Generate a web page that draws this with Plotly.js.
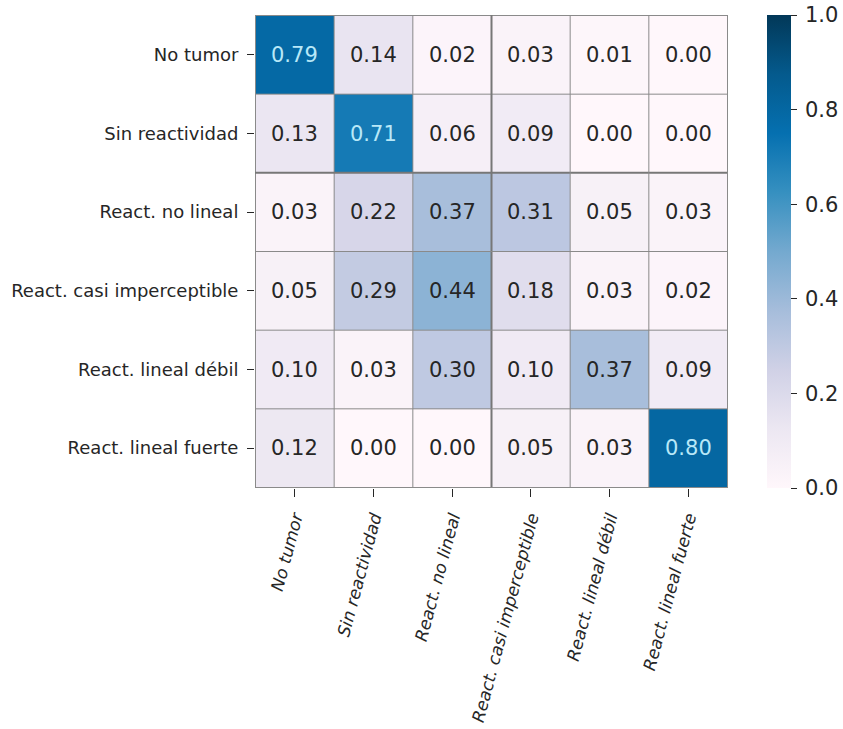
<!DOCTYPE html>
<html>
<head>
<meta charset="utf-8">
<script src="https://cdn.plot.ly/plotly-3.0.1.min.js"></script>
<style>
  html, body { margin: 0; padding: 0; background: #ffffff; }
  #chart { width: 843px; height: 729px; }
</style>
</head>
<body>
<div id="chart"></div>
<script>
// Class labels (same order on both axes)
const categories = [
  'No tumor',
  'Sin reactividad',
  'React. no lineal',
  'React. casi imperceptible',
  'React. lineal débil',
  'React. lineal fuerte'
];

// Normalised confusion matrix, one row per true class
const rowNoTumor      = [0.79, 0.14, 0.02, 0.03, 0.01, 0.00];
const rowSinReact     = [0.13, 0.71, 0.06, 0.09, 0.00, 0.00];
const rowNoLineal     = [0.03, 0.22, 0.37, 0.31, 0.05, 0.03];
const rowCasiImperc   = [0.05, 0.29, 0.44, 0.18, 0.03, 0.02];
const rowLinealDebil  = [0.10, 0.03, 0.30, 0.10, 0.37, 0.09];
const rowLinealFuerte = [0.12, 0.00, 0.00, 0.05, 0.03, 0.80];

const matrix = [rowNoTumor, rowSinReact, rowNoLineal, rowCasiImperc, rowLinealDebil, rowLinealFuerte];

// Colorbar ticks
const cbTicks = [0.0, 0.2, 0.4, 0.6, 0.8, 1.0];

// Sequential purple-blue colour map
const puBu = ['#fff7fb', '#ece7f2', '#d0d1e6', '#a6bddb', '#74a9cf', '#3690c0', '#0570b0', '#045a8d', '#023858'];
const colorscale = puBu.map((c, i) => [i / (puBu.length - 1), c]);

const FONT = 'DejaVu Sans, Arial, sans-serif';
const DARK = '#262626';
const LIGHT = '#b8e8f8';
const GRID = '#8a8a8a';

const heat = {
  type: 'heatmap',
  x: categories,
  y: categories,
  z: matrix,
  zmin: 0,
  zmax: 1,
  colorscale: colorscale,
  colorbar: {
    xref: 'container',
    x: 767 / 843, xanchor: 'left', xpad: 0,
    yref: 'paper',
    y: 0.5, yanchor: 'middle', ypad: 0,
    len: 1, lenmode: 'fraction',
    thickness: 24,
    outlinewidth: 0,
    ticks: 'outside', ticklen: 6, tickwidth: 1, tickcolor: DARK,
    tickvals: cbTicks,
    ticktext: cbTicks.map(v => '\u2009' + v.toFixed(1)),
    tickfont: { family: FONT, size: 21, color: DARK }
  }
};

// Value labels inside each cell
const annotations = [];
matrix.forEach((row, r) => {
  row.forEach((v, c) => {
    annotations.push({
      x: categories[c], y: categories[r],
      xref: 'x', yref: 'y',
      text: v.toFixed(2),
      showarrow: false,
      font: { family: FONT, size: 21, color: v > 0.6 ? LIGHT : DARK }
    });
  });
});

// Cell borders (the block separators are drawn a little heavier)
const shapes = [];
for (let i = 0; i <= categories.length; i++) {
  shapes.push({ type: 'line', xref: 'x', yref: 'paper', x0: i - 0.5, x1: i - 0.5, y0: 0, y1: 1,
    line: { color: i === 3 ? '#777777' : GRID, width: i === 3 ? 2 : 1 } });
  shapes.push({ type: 'line', xref: 'paper', yref: 'y', x0: 0, x1: 1, y0: i - 0.5, y1: i - 0.5,
    line: { color: i === 2 ? '#777777' : GRID, width: i === 2 ? 2 : 1 } });
}

const layout = {
  width: 843,
  height: 729,
  margin: { l: 255, r: 115, t: 15, b: 241, pad: 0 },
  paper_bgcolor: '#ffffff',
  plot_bgcolor: '#ffffff',
  font: { family: FONT, color: DARK },
  xaxis: {
    type: 'category',
    tickangle: -75,
    ticks: 'outside', ticklen: 8, tickwidth: 1, tickcolor: DARK,
    ticklabelstandoff: 4,
    tickfont: { family: FONT, size: 17, color: DARK, style: 'italic' },
    showgrid: false, zeroline: false, showline: false,
    fixedrange: true
  },
  yaxis: {
    type: 'category',
    autorange: 'reversed',
    ticks: 'outside', ticklen: 7, tickwidth: 1, tickcolor: DARK,
    ticklabelstandoff: 5,
    tickfont: { family: FONT, size: 18, color: DARK },
    showgrid: false, zeroline: false, showline: false,
    fixedrange: true
  },
  annotations: annotations,
  shapes: shapes,
  showlegend: false
};

Plotly.newPlot('chart', [heat], layout, { displayModeBar: false, staticPlot: true });
</script>
</body>
</html>
